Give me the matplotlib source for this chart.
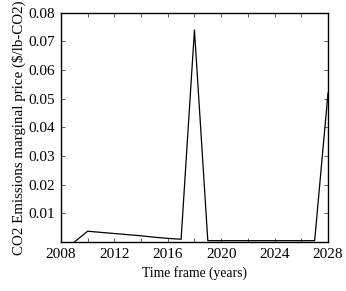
import matplotlib
matplotlib.use("Agg")
import matplotlib.pyplot as plt
from matplotlib.ticker import MultipleLocator

# yearly marginal CO2 price
years = [2009, 2010, 2011, 2012, 2013, 2014, 2015, 2016, 2017, 2018,
         2019, 2020, 2021, 2022, 2023, 2024, 2025, 2026, 2027, 2028]
price = [0.0, 0.0038, 0.0034, 0.0030, 0.0026, 0.0022, 0.0017, 0.0013, 0.0010, 0.074,
         0.0005, 0.0005, 0.0005, 0.0005, 0.0005, 0.0005, 0.0005, 0.0005, 0.0005, 0.052]

x_ticks = [2008, 2012, 2016, 2020, 2024, 2028]
y_ticks = [0.01, 0.02, 0.03, 0.04, 0.05, 0.06, 0.07, 0.08]

plt.rcParams['font.family'] = ['Liberation Serif', 'DejaVu Serif']

fig = plt.figure(figsize=(3.46, 2.91), dpi=100)
ax = fig.add_axes([0.176, 0.168, 0.772, 0.788])

ax.plot(years, price, color='black', linewidth=0.9)

ax.set_xlim(2008, 2028)
ax.set_ylim(0, 0.08)
ax.set_xticks(x_ticks)
ax.xaxis.set_minor_locator(MultipleLocator(2))
ax.set_yticks(y_ticks)
ax.set_yticklabels([f"{v:.2f}" for v in y_ticks])

ax.tick_params(which='both', direction='in', top=True, right=True,
               labelsize=11, width=0.6, color='#444444')
ax.tick_params(which='major', length=3, pad=4)
ax.tick_params(which='minor', length=3)
for s in ax.spines.values():
    s.set_linewidth(1.0)

ax.set_xlabel("Time frame (years)", fontsize=9.8, labelpad=4)
ax.set_ylabel("CO2 Emissions marginal price ($/lb-CO2)", fontsize=10.8, labelpad=2)

fig.savefig("out.png", dpi=100)
